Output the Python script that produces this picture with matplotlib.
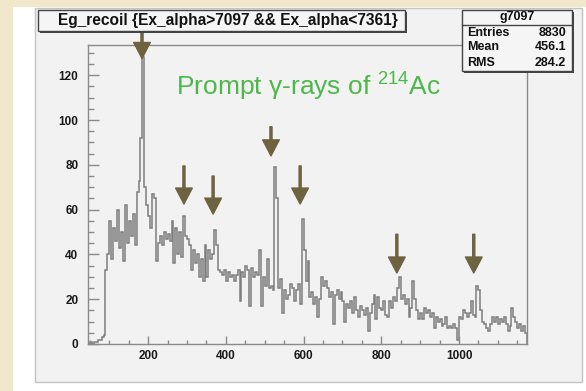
import matplotlib
matplotlib.use('Agg')
import matplotlib.pyplot as plt
import numpy as np
from matplotlib.patches import Rectangle
from matplotlib.lines import Line2D
from matplotlib.ticker import MultipleLocator

plt.rcParams['font.family'] = ['Liberation Sans', 'DejaVu Sans']

# gamma energy histogram, 5 keV bins starting at 45 keV
bin_start = 45
bin_width = 5
counts = [
    0,
    1, 0, 1, 1, 2, 2, 3, 4, 33, 40,            # 50-95
    55, 38, 52, 46, 60, 43, 50, 37, 62, 45,     # 100-145
    55, 48, 58, 44, 68, 73, 92, 128, 70, 62,    # 150-195
    57, 52, 67, 65, 37, 45, 48, 44, 50, 47,     # 200-245
    49, 46, 55, 36, 52, 40, 50, 39, 57, 48,     # 250-295
    47, 44, 33, 42, 36, 40, 30, 38, 28, 44,     # 300-345
    30, 42, 38, 40, 51, 44, 33, 32, 31, 33,     # 350-395
    28, 32, 30, 31, 28, 31, 33, 19, 32, 30,     # 400-445
    35, 33, 17, 34, 30, 32, 31, 42, 17, 30,     # 450-495
    26, 38, 25, 26, 24, 79, 65, 25, 29, 14,     # 500-545
    24, 20, 22, 27, 25, 19, 24, 27, 18, 56,     # 550-595
    42, 28, 37, 21, 23, 18, 21, 12, 20, 30,     # 600-645
    26, 28, 25, 21, 23, 9, 22, 24, 20, 23,      # 650-695
    19, 10, 18, 16, 19, 14, 21, 15, 12, 17,     # 700-745
    15, 13, 16, 6, 14, 18, 22, 11, 21, 16,      # 750-795
    15, 19, 13, 12, 19, 16, 21, 19, 25, 30,     # 800-845
    20, 22, 18, 20, 12, 16, 28, 20, 15, 11,     # 850-895
    14, 11, 16, 14, 15, 12, 14, 7, 12, 10,      # 900-945
    11, 8, 9, 12, 7, 8, 7, 9, 7, 2,             # 950-995
    12, 11, 15, 14, 12, 14, 19, 13, 12, 26,     # 1000-1045
    24, 15, 10, 9, 7, 6, 9, 12, 10, 12,         # 1050-1095
    9, 11, 10, 12, 9, 6, 8, 16, 12, 10,         # 1100-1145
    7, 9, 6, 8, 5,                              # 1150-1170
]
edges = bin_start + bin_width * np.arange(len(counts) + 1)

# marked prompt gamma lines: energy, arrow top, arrow tip
arrow_energy = [184, 292, 367, 516, 591, 840, 1038]
arrow_top = [140, 79.5, 75, 97, 79.5, 49, 49]
arrow_tip = [127.5, 62.5, 58, 84, 62.5, 31.7, 31.7]

hist_title = 'Eg_recoil {Ex_alpha>7097 && Ex_alpha<7361}'
stats_name = 'g7097'
stats_labels = ['Entries', 'Mean', 'RMS']
stats_values = ['8830', '456.1', '284.2']

W, H = 586, 391
fig = plt.figure(figsize=(W / 100, H / 100), dpi=100)
fig.patch.set_facecolor('white')


def rect(x0, y0, x1, y1, **kw):
    # rectangle given in pixels from the top-left corner
    fig.patches.append(Rectangle((x0 / W, 1 - y1 / H), (x1 - x0) / W,
                                 (y1 - y0) / H, transform=fig.transFigure, **kw))


def ftext(x, y, s, **kw):
    fig.text(x / W, 1 - y / H, s, **kw)


# slide background and canvas pad
rect(0, 0, 13, H, facecolor='#f1e8cc', edgecolor='none', zorder=-5)
rect(0, 0, W, 7, facecolor='#f1e8cc', edgecolor='none', zorder=-5)
rect(35, 8, 582, 382, facecolor='#f2f2f2', edgecolor='#c4c4c4', lw=1,
     zorder=-4)

ax = fig.add_axes([88 / W, 1 - 344 / H, (527 - 88) / W, (344 - 45) / H])
ax.set_facecolor('#f2f2f2')
ax.stairs(counts, edges, color='#7d7d7d', lw=1.1)
ax.set_xlim(edges[0], edges[-1])
ax.set_ylim(0, 133.5)

for s in ax.spines.values():
    s.set_color('#8a8a8a')
    s.set_linewidth(1)
ax.xaxis.set_major_locator(MultipleLocator(200))
ax.xaxis.set_minor_locator(MultipleLocator(50))
ax.yaxis.set_major_locator(MultipleLocator(20))
ax.yaxis.set_minor_locator(MultipleLocator(5))
ax.tick_params(axis='x', which='major', direction='in', length=5.8, width=1,
               color='#8a8a8a', pad=4)
ax.tick_params(axis='x', which='minor', direction='in', length=2.9, width=1,
               color='#8a8a8a')
ax.tick_params(axis='y', which='major', direction='in', length=8, width=1,
               color='#8a8a8a', pad=7)
ax.tick_params(axis='y', which='minor', direction='in', length=4.3, width=1,
               color='#8a8a8a')
for lab in ax.get_xticklabels() + ax.get_yticklabels():
    lab.set_fontweight('bold')
    lab.set_fontsize(8.5)
    lab.set_color('#1a1a1a')

# arrows marking the prompt gamma lines
for e, top, tip in zip(arrow_energy, arrow_top, arrow_tip):
    ax.annotate('', xy=(e, tip), xytext=(e, top), annotation_clip=False,
                arrowprops=dict(width=1.5, headwidth=12, headlength=11.5,
                                color='#6e6340', shrink=0))

ftext(176, 86, r'Prompt γ-rays of $^{\mathregular{214}}$Ac',
      fontsize=19, color='#4db84a', va='center', ha='left')

# title box
rect(40, 12, 407, 33, facecolor='#444444', edgecolor='none', zorder=2)
rect(38, 10, 405, 31, facecolor='#f5f5f5', edgecolor='#444444', lw=1,
     zorder=2)
ftext(228, 20.5, hist_title, fontsize=11.2, fontweight='bold', ha='center',
      va='center', color='#111111', zorder=3)

# statistics box
rect(464, 12, 574, 73, facecolor='#444444', edgecolor='none', zorder=2)
rect(462, 10, 572, 71, facecolor='#f5f5f5', edgecolor='#444444', lw=1,
     zorder=2)
fig.lines.append(Line2D([462 / W, 572 / W], [1 - 24.5 / H, 1 - 24.5 / H],
                        transform=fig.transFigure, color='#444444', lw=1,
                        zorder=3))
ftext(517, 17, stats_name, fontsize=9, fontweight='bold', ha='center',
      va='center', color='#111111', zorder=3)
for i, (lab, val) in enumerate(zip(stats_labels, stats_values)):
    y = 32.5 + 15 * i
    ftext(467, y, lab, fontsize=9, fontweight='bold', ha='left', va='center',
          color='#111111', zorder=3)
    ftext(566, y, val, fontsize=9, fontweight='bold', ha='right', va='center',
          color='#111111', zorder=3)

fig.savefig('out.png', dpi=100)
